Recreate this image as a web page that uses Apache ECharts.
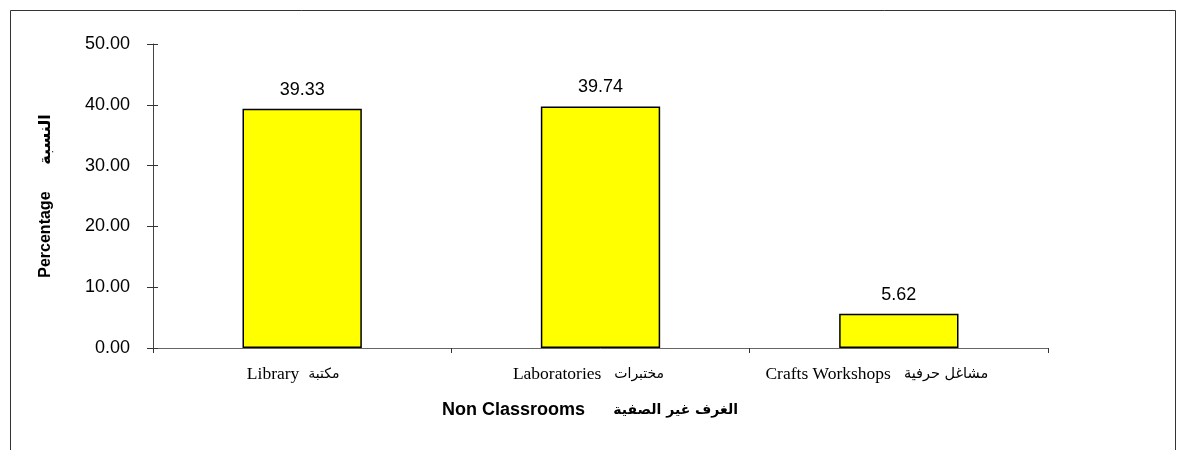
<!DOCTYPE html>
<html>
<head>
<meta charset="utf-8">
<script src="https://cdn.jsdelivr.net/npm/echarts@6/dist/echarts.min.js"></script>
<style>
  html, body { margin: 0; padding: 0; background: #fff; }
  #chart { width: 1187px; height: 450px; }
</style>
</head>
<body>
<div id="chart"></div>
<script>
// data
const categoriesEn = ['Library', 'Laboratories', 'Crafts Workshops']
const categoriesAr = ['مكتبة', 'مختبرات', 'مشاغل حرفية']
const values = [39.33, 39.74, 5.62]
const yTicks = [0, 10, 20, 30, 40, 50]

const chart = echarts.init(document.getElementById('chart'))

const serif = '"Liberation Serif", "Times New Roman", serif'
const sans = '"Liberation Sans", Arial, sans-serif'

const option = {
  animation: false,
  backgroundColor: '#fff',
  grid: { left: 153, right: 139, top: 44, bottom: 102 },
  xAxis: {
    type: 'category',
    data: categoriesEn,
    axisLine: { lineStyle: { color: '#666', width: 1 } },
    axisTick: { show: true, length: 5, lineStyle: { color: '#333' } },
    axisLabel: {
      margin: 17,
      color: '#000',
      // labels in the original sit a bit left of the category centre
      formatter: (v, i) => '{en|' + v + '}{ar' + i + '|' + categoriesAr[i] + '}',
      rich: {
        en: { fontFamily: serif, fontSize: 17.5, color: '#000' },
        ar0: { fontFamily: '"DejaVu Sans", sans-serif', fontSize: 14, color: '#000', padding: [0, 18, 0, 9] },
        ar1: { fontFamily: '"DejaVu Sans", sans-serif', fontSize: 14, color: '#000', padding: [0, 24, 0, 13] },
        ar2: { fontFamily: '"DejaVu Sans", sans-serif', fontSize: 14.5, color: '#000', padding: [0, 44, 0, 13] }
      }
    }
  },
  yAxis: [
    {
      type: 'value',
      min: yTicks[0],
      max: yTicks[yTicks.length - 1],
      interval: 10,
      splitLine: { show: false },
      axisLine: { show: true, lineStyle: { color: '#444' } },
      axisTick: { show: true, length: 6, lineStyle: { color: '#333' } },
      axisLabel: {
        margin: 23,
        color: '#000',
        fontFamily: sans,
        fontSize: 18,
        formatter: v => v.toFixed(2)
      },
      name: 'Percentage      النسبة',
      nameLocation: 'middle',
      nameGap: 99,
      nameTextStyle: {
        color: '#000',
        fontWeight: 'bold',
        fontSize: 16,
        fontFamily: '"Liberation Sans", "DejaVu Sans", Arial, sans-serif'
      }
    },
    {
      // inner half of the crossing tick marks
      type: 'value',
      position: 'left',
      min: yTicks[0],
      max: yTicks[yTicks.length - 1],
      interval: 10,
      splitLine: { show: false },
      axisLine: { show: false },
      axisTick: { show: true, inside: true, length: 5, lineStyle: { color: '#333' } },
      axisLabel: { show: false }
    }
  ],
  series: [
    {
      type: 'bar',
      data: values,
      barWidth: '40%',
      itemStyle: { color: '#ffff00', borderColor: '#000', borderWidth: 1.5 },
      label: {
        show: true,
        position: 'top',
        distance: 10,
        color: '#000',
        fontSize: 18,
        fontFamily: sans,
        formatter: p => p.value.toFixed(2)
      }
    }
  ],
  graphic: [
    {
      type: 'rect',
      shape: { x: 10.5, y: 10.5, width: 1165, height: 460 },
      style: { fill: 'none', stroke: '#333', lineWidth: 1 },
      silent: true
    },
    {
      type: 'text',
      x: 442,
      y: 410,
      style: {
        text: 'Non Classrooms',
        fill: '#000',
        verticalAlign: 'middle',
        font: 'bold 18px "Liberation Sans", Arial, sans-serif'
      }
    },
    {
      type: 'text',
      x: 738,
      y: 410,
      style: {
        text: 'الغرف غير الصفية',
        fill: '#000',
        align: 'right',
        verticalAlign: 'middle',
        font: 'bold 14px "DejaVu Sans", sans-serif'
      }
    }
  ]
}

chart.setOption(option)
</script>
</body>
</html>
